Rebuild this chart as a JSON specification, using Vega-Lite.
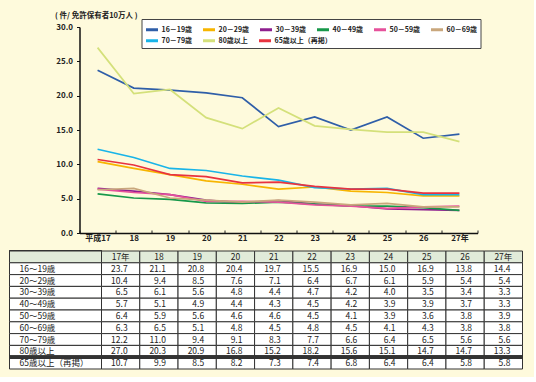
{
  "$schema": "https://vega.github.io/schema/vega-lite/v6.json",
  "background": "#fefadc",
  "padding": {"left": 7.5, "top": 11, "right": 9, "bottom": 7},
  "config": {"view": {"stroke": null}, "font": "Noto Sans CJK JP"},
  "datasets": {
    "d": [
      {"age": "16～19歳", "year": "17年", "value": 23.7}, {"age": "16～19歳", "year": "18", "value": 21.1}, {"age": "16～19歳", "year": "19", "value": 20.8}, {"age": "16～19歳", "year": "20", "value": 20.4}, {"age": "16～19歳", "year": "21", "value": 19.7}, {"age": "16～19歳", "year": "22", "value": 15.5}, {"age": "16～19歳", "year": "23", "value": 16.9}, {"age": "16～19歳", "year": "24", "value": 15.0}, {"age": "16～19歳", "year": "25", "value": 16.9}, {"age": "16～19歳", "year": "26", "value": 13.8}, {"age": "16～19歳", "year": "27年", "value": 14.4},
      {"age": "20～29歳", "year": "17年", "value": 10.4}, {"age": "20～29歳", "year": "18", "value": 9.4}, {"age": "20～29歳", "year": "19", "value": 8.5}, {"age": "20～29歳", "year": "20", "value": 7.6}, {"age": "20～29歳", "year": "21", "value": 7.1}, {"age": "20～29歳", "year": "22", "value": 6.4}, {"age": "20～29歳", "year": "23", "value": 6.7}, {"age": "20～29歳", "year": "24", "value": 6.1}, {"age": "20～29歳", "year": "25", "value": 5.9}, {"age": "20～29歳", "year": "26", "value": 5.4}, {"age": "20～29歳", "year": "27年", "value": 5.4},
      {"age": "30～39歳", "year": "17年", "value": 6.5}, {"age": "30～39歳", "year": "18", "value": 6.1}, {"age": "30～39歳", "year": "19", "value": 5.6}, {"age": "30～39歳", "year": "20", "value": 4.8}, {"age": "30～39歳", "year": "21", "value": 4.4}, {"age": "30～39歳", "year": "22", "value": 4.7}, {"age": "30～39歳", "year": "23", "value": 4.2}, {"age": "30～39歳", "year": "24", "value": 4.0}, {"age": "30～39歳", "year": "25", "value": 3.5}, {"age": "30～39歳", "year": "26", "value": 3.4}, {"age": "30～39歳", "year": "27年", "value": 3.3},
      {"age": "40～49歳", "year": "17年", "value": 5.7}, {"age": "40～49歳", "year": "18", "value": 5.1}, {"age": "40～49歳", "year": "19", "value": 4.9}, {"age": "40～49歳", "year": "20", "value": 4.4}, {"age": "40～49歳", "year": "21", "value": 4.3}, {"age": "40～49歳", "year": "22", "value": 4.5}, {"age": "40～49歳", "year": "23", "value": 4.2}, {"age": "40～49歳", "year": "24", "value": 3.9}, {"age": "40～49歳", "year": "25", "value": 3.9}, {"age": "40～49歳", "year": "26", "value": 3.7}, {"age": "40～49歳", "year": "27年", "value": 3.3},
      {"age": "50～59歳", "year": "17年", "value": 6.4}, {"age": "50～59歳", "year": "18", "value": 5.9}, {"age": "50～59歳", "year": "19", "value": 5.6}, {"age": "50～59歳", "year": "20", "value": 4.6}, {"age": "50～59歳", "year": "21", "value": 4.6}, {"age": "50～59歳", "year": "22", "value": 4.5}, {"age": "50～59歳", "year": "23", "value": 4.1}, {"age": "50～59歳", "year": "24", "value": 3.9}, {"age": "50～59歳", "year": "25", "value": 3.6}, {"age": "50～59歳", "year": "26", "value": 3.8}, {"age": "50～59歳", "year": "27年", "value": 3.9},
      {"age": "60～69歳", "year": "17年", "value": 6.3}, {"age": "60～69歳", "year": "18", "value": 6.5}, {"age": "60～69歳", "year": "19", "value": 5.1}, {"age": "60～69歳", "year": "20", "value": 4.8}, {"age": "60～69歳", "year": "21", "value": 4.5}, {"age": "60～69歳", "year": "22", "value": 4.8}, {"age": "60～69歳", "year": "23", "value": 4.5}, {"age": "60～69歳", "year": "24", "value": 4.1}, {"age": "60～69歳", "year": "25", "value": 4.3}, {"age": "60～69歳", "year": "26", "value": 3.8}, {"age": "60～69歳", "year": "27年", "value": 3.8},
      {"age": "70～79歳", "year": "17年", "value": 12.2}, {"age": "70～79歳", "year": "18", "value": 11.0}, {"age": "70～79歳", "year": "19", "value": 9.4}, {"age": "70～79歳", "year": "20", "value": 9.1}, {"age": "70～79歳", "year": "21", "value": 8.3}, {"age": "70～79歳", "year": "22", "value": 7.7}, {"age": "70～79歳", "year": "23", "value": 6.6}, {"age": "70～79歳", "year": "24", "value": 6.4}, {"age": "70～79歳", "year": "25", "value": 6.5}, {"age": "70～79歳", "year": "26", "value": 5.6}, {"age": "70～79歳", "year": "27年", "value": 5.6},
      {"age": "80歳以上", "year": "17年", "value": 27.0}, {"age": "80歳以上", "year": "18", "value": 20.3}, {"age": "80歳以上", "year": "19", "value": 20.9}, {"age": "80歳以上", "year": "20", "value": 16.8}, {"age": "80歳以上", "year": "21", "value": 15.2}, {"age": "80歳以上", "year": "22", "value": 18.2}, {"age": "80歳以上", "year": "23", "value": 15.6}, {"age": "80歳以上", "year": "24", "value": 15.1}, {"age": "80歳以上", "year": "25", "value": 14.7}, {"age": "80歳以上", "year": "26", "value": 14.7}, {"age": "80歳以上", "year": "27年", "value": 13.3},
      {"age": "65歳以上（再掲）", "year": "17年", "value": 10.7}, {"age": "65歳以上（再掲）", "year": "18", "value": 9.9}, {"age": "65歳以上（再掲）", "year": "19", "value": 8.5}, {"age": "65歳以上（再掲）", "year": "20", "value": 8.2}, {"age": "65歳以上（再掲）", "year": "21", "value": 7.3}, {"age": "65歳以上（再掲）", "year": "22", "value": 7.4}, {"age": "65歳以上（再掲）", "year": "23", "value": 6.8}, {"age": "65歳以上（再掲）", "year": "24", "value": 6.4}, {"age": "65歳以上（再掲）", "year": "25", "value": 6.4}, {"age": "65歳以上（再掲）", "year": "26", "value": 5.8}, {"age": "65歳以上（再掲）", "year": "27年", "value": 5.8}
    ]
  },
  "spacing": 8,
  "vconcat": [
    {
      "spacing": 0,
      "bounds": "flush",
      "hconcat": [
        {"width": 70, "height": 206, "data": {"values": []}, "mark": "point"},
        {
          "width": 398,
          "height": 206,
          "data": {"name": "d"},
          "encoding": {
            "x": {
              "field": "year", "type": "ordinal", "bandPosition": 0.5,
              "scale": {"type": "band", "domain": ["17年","18","19","20","21","22","23","24","25","26","27年"], "paddingInner": 0, "paddingOuter": 0},
              "axis": {"title": null, "labelAngle": 0, "labelExpr": "datum.value == '17年' ? '平成17' : datum.value", "tickBand": "extent", "tickSize": -3, "tickColor": "#222", "domainColor": "#111", "domainWidth": 1.5, "labelFontSize": 8, "labelFontWeight": "bold", "labelColor": "#222", "labelPadding": 4}
            },
            "y": {
              "field": "value", "type": "quantitative",
              "scale": {"domain": [0, 30]},
              "axis": {"values": [0,5,10,15,20,25,30], "format": ".1f", "grid": false, "tickSize": 3, "tickColor": "#111", "domainColor": "#111", "domainWidth": 1.5, "labelFontSize": 8, "labelFontWeight": "bold", "labelColor": "#222", "labelPadding": 4,
                       "title": "( 件/ 免許保有者10万人 )", "titleAngle": 0, "titleAlign": "left", "titleBaseline": "middle", "titleX": -25, "titleY": -12, "titleFontSize": 7.5, "titleFontWeight": "bold", "titleColor": "#222"}
            }
          },
          "layer": [
            {
              "transform": [{"filter": {"field": "age", "oneOf": ["16～19歳","20～29歳","30～39歳","40～49歳","50～59歳","60～69歳"]}}],
              "mark": {"type": "line", "strokeWidth": 1.7},
              "encoding": {
                "color": {
                  "field": "age", "type": "nominal",
                  "scale": {"domain": ["16～19歳","20～29歳","30～39歳","40～49歳","50～59歳","60～69歳"],
                            "range": ["#2f5ea8","#f7b500","#8e1f8f","#17984a","#e6519b","#c9a77c"]},
                  "legend": {"title": " ", "titleOrient": "bottom", "titleFontSize": 8, "titlePadding": 1, "orient": "none", "legendX": 62, "legendY": -8, "direction": "horizontal",
                             "fillColor": "white", "strokeColor": "#444", "padding": 3, "columnPadding": 4,
                             "symbolType": "stroke", "symbolSize": 144, "symbolStrokeWidth": 3, "labelOffset": 2,
                             "labelFontSize": 7, "labelFontWeight": "bold", "labelColor": "#222",
                             "labelExpr": "replace(datum.label, '～', '－')"}
                }
              }
            },
            {
              "transform": [{"filter": {"field": "age", "oneOf": ["70～79歳","80歳以上","65歳以上（再掲）"]}}],
              "mark": {"type": "line", "strokeWidth": 1.7},
              "encoding": {
                "stroke": {
                  "field": "age", "type": "nominal",
                  "scale": {"domain": ["70～79歳","80歳以上","65歳以上（再掲）"],
                            "range": ["#19b4e8","#d4e07a","#e8333f"]},
                  "legend": {"title": null, "orient": "none", "legendX": 62, "legendY": 3, "direction": "horizontal",
                             "padding": 3, "columnPadding": 4,
                             "symbolType": "stroke", "symbolSize": 144, "symbolStrokeWidth": 3, "labelOffset": 2,
                             "labelFontSize": 7, "labelFontWeight": "bold", "labelColor": "#222",
                             "labelExpr": "replace(datum.label, '～', '－')"}
                }
              }
            }
          ],
          "resolve": {"legend": {"color": "independent", "stroke": "independent"}}
        }
      ]
    },
    {
      "hconcat": [
        {
          "width": 92,
          "height": 118,
          "data": {"name": "d"},
          "transform": [{"filter": "datum.year == '17年'"}],
          "layer": [
            {"mark": {"type": "rect", "fill": "#e1ebd9", "stroke": "#333", "strokeWidth": 1},
             "encoding": {"y": {"datum": "hdr", "type": "nominal", "scale": {"type": "band", "domain": ["hdr","16～19歳","20～29歳","30～39歳","40～49歳","50～59歳","60～69歳","70～79歳","80歳以上","65歳以上（再掲）"], "paddingInner": 0, "paddingOuter": 0}, "axis": null}}},
            {"mark": {"type": "rect", "fill": "white", "stroke": "#333", "strokeWidth": 1},
             "encoding": {"y": {"field": "age", "type": "nominal"}}},
            {"mark": {"type": "text", "align": "left", "dx": -36, "fontSize": 8.5, "color": "#222"},
             "encoding": {"y": {"field": "age", "type": "nominal", "bandPosition": 0.5}, "text": {"field": "age"}}},
            {"mark": {"type": "rule", "strokeWidth": 3, "color": "#333"},
             "encoding": {"y": {"datum": "65歳以上（再掲）", "type": "nominal", "bandPosition": 0}}}
          ]
        },
        {
          "width": 421,
          "height": 118,
          "data": {"name": "d"},
          "layer": [
            {"transform": [{"filter": "datum.age == '16～19歳'"}],
             "mark": {"type": "rect", "fill": "#e1ebd9", "stroke": "#333", "strokeWidth": 1},
             "encoding": {
               "x": {"field": "year", "type": "ordinal", "scale": {"type": "band", "domain": ["17年","18","19","20","21","22","23","24","25","26","27年"], "paddingInner": 0, "paddingOuter": 0}, "axis": null},
               "y": {"datum": "hdr", "type": "nominal", "scale": {"type": "band", "domain": ["hdr","16～19歳","20～29歳","30～39歳","40～49歳","50～59歳","60～69歳","70～79歳","80歳以上","65歳以上（再掲）"], "paddingInner": 0, "paddingOuter": 0}, "axis": null}}},
            {"mark": {"type": "rect", "fill": "white", "stroke": "#333", "strokeWidth": 1},
             "encoding": {"x": {"field": "year", "type": "ordinal"}, "y": {"field": "age", "type": "nominal"}}},
            {"mark": {"type": "text", "align": "right", "dx": 7, "fontSize": 8.5, "color": "#222"},
             "encoding": {"x": {"field": "year", "type": "ordinal", "bandPosition": 0.5}, "y": {"field": "age", "type": "nominal", "bandPosition": 0.5}, "text": {"field": "value", "format": ".1f"}}},
            {"transform": [{"filter": "datum.age == '16～19歳'"}],
             "mark": {"type": "text", "align": "center", "fontSize": 8.5, "color": "#222"},
             "encoding": {"x": {"field": "year", "type": "ordinal", "bandPosition": 0.5}, "y": {"datum": "hdr", "type": "nominal", "bandPosition": 0.5}, "text": {"field": "year"}}},
            {"transform": [{"filter": "datum.age == '16～19歳'"}],
             "mark": {"type": "rule", "strokeWidth": 3, "color": "#333"},
             "encoding": {"y": {"datum": "65歳以上（再掲）", "type": "nominal", "bandPosition": 0}}}
          ]
        }
      ],
      "spacing": 0,
      "bounds": "flush"
    }
  ]
}
